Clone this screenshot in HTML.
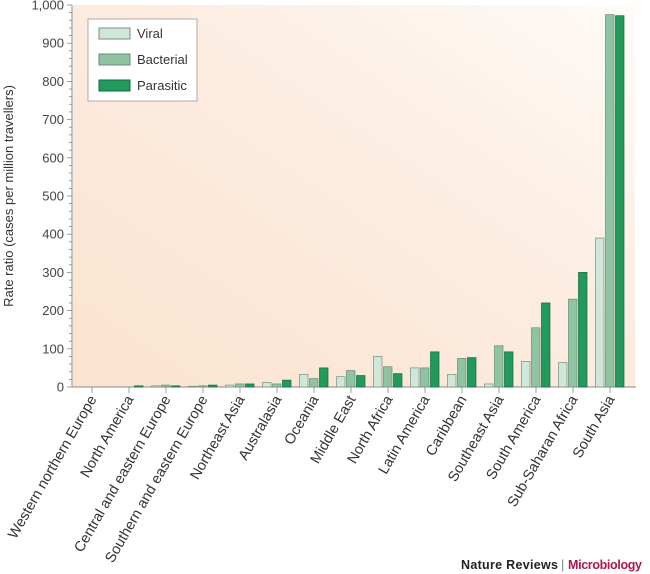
<!DOCTYPE html>
<html><head><meta charset="utf-8"><style>
body{margin:0;background:#fff}
svg{display:block;font-family:"Liberation Sans",sans-serif}
</style></head><body>
<svg width="650" height="574" viewBox="0 0 650 574">
<defs>
<linearGradient id="bg" x1="0" y1="1" x2="1" y2="0">
<stop offset="0" stop-color="#fbe3cf"/><stop offset="0.55" stop-color="#fcece0"/><stop offset="1" stop-color="#fefbf8"/>
</linearGradient>
</defs>
<rect x="73" y="5" width="562" height="382" fill="url(#bg)"/>
<g id="axes"></g>
<g id="bars"></g>
<g id="labels"></g>
<g>
<rect x="88" y="19" width="109" height="82" fill="#fff" stroke="#9a9a9a" stroke-width="0.8"/>
<rect x="99" y="28" width="31" height="11" fill="#cfe7d8" stroke="#7d8c83"/>
<text x="137" y="38" font-size="13" fill="#333">Viral</text>
<rect x="99" y="54" width="31" height="11" fill="#8fc4a3" stroke="#6d8a77"/>
<text x="137" y="64" font-size="13" fill="#333">Bacterial</text>
<rect x="99" y="80" width="31" height="11" fill="#229a5e" stroke="#17683f"/>
<text x="137" y="90" font-size="13" fill="#333">Parasitic</text>
</g>
<text transform="translate(13,196) rotate(-90)" text-anchor="middle" font-size="13" fill="#333">Rate ratio (cases per million travellers)</text>
<text x="461" y="569" font-size="12.5" font-weight="bold" textLength="97" fill="#222">Nature Reviews</text>
<text x="561" y="569" font-size="13" fill="#888">|</text>
<text x="568" y="569" font-size="12.5" font-weight="bold" textLength="74" fill="#b0174a">Microbiology</text>
</svg>
<script>
const categories=["Western northern Europe","North America","Central and eastern Europe","Southern and eastern Europe","Northeast Asia","Australasia","Oceania","Middle East","North Africa","Latin America","Caribbean","Southeast Asia","South America","Sub-Saharan Africa","South Asia"];
const viral=[0,0,3,2,5,12,33,27,80,50,33,8,67,64,390];
const bacterial=[0,0,5,3,8,8,22,43,53,50,75,108,155,230,975];
const parasitic=[0,3,3,5,8,18,50,30,35,92,77,92,220,300,972];
const yTicks=[0,100,200,300,400,500,600,700,800,900,1000];
const NS="http://www.w3.org/2000/svg";
const y=v=>387-v*0.382;
const x=i=>92+i*37;
function mk(tag,attrs,parent){const e=document.createElementNS(NS,tag);for(const k in attrs)e.setAttribute(k,attrs[k]);parent.appendChild(e);return e;}
const axes=document.getElementById('axes'),bars=document.getElementById('bars'),labels=document.getElementById('labels');
let l=mk('line',{x1:72,y1:5,x2:72,y2:387,stroke:'#888','stroke-width':1},axes);


l=mk('line',{x1:72,y1:387,x2:636,y2:387,stroke:'#888','stroke-width':1},axes);


for(let v=0;v<=1000;v+=20){const t=mk('line',{x1:v%100?69:67,y1:y(v),x2:72,y2:y(v),stroke:'#888','stroke-width':0.8},axes);

}
yTicks.forEach(v=>{const t=mk('text',{x:64,y:y(v)+4.5,'text-anchor':'end','font-size':13,fill:'#444'},axes);t.textContent=v===1000?'1,000':String(v);

});
const series=[[viral,'#cfe7d8','#7d8c83',-10,'viral'],[bacterial,'#8fc4a3','#6d8a77',0,'bacterial'],[parasitic,'#229a5e','#17683f',10,'parasitic']];
categories.forEach((c,i)=>{
 const t=mk('line',{x1:x(i),y1:387,x2:x(i),y2:393,stroke:'#888','stroke-width':0.8},axes);
 
 
 const tx=mk('text',{transform:`translate(${x(i)+5},399) rotate(-60)`,'text-anchor':'end','font-size':14.5,fill:'#333'},labels);
 tx.textContent=c;
 
 
 series.forEach(([arr,fill,stroke,off,nm])=>{
  const v=arr[i];if(v<=0)return;
  const r=mk('rect',{x:x(i)+off-4.5,y:y(v),width:8.5,height:387-y(v),fill:fill,stroke:stroke,'stroke-width':0.7},bars);
  
  
 });
});
</script>
</body></html>
